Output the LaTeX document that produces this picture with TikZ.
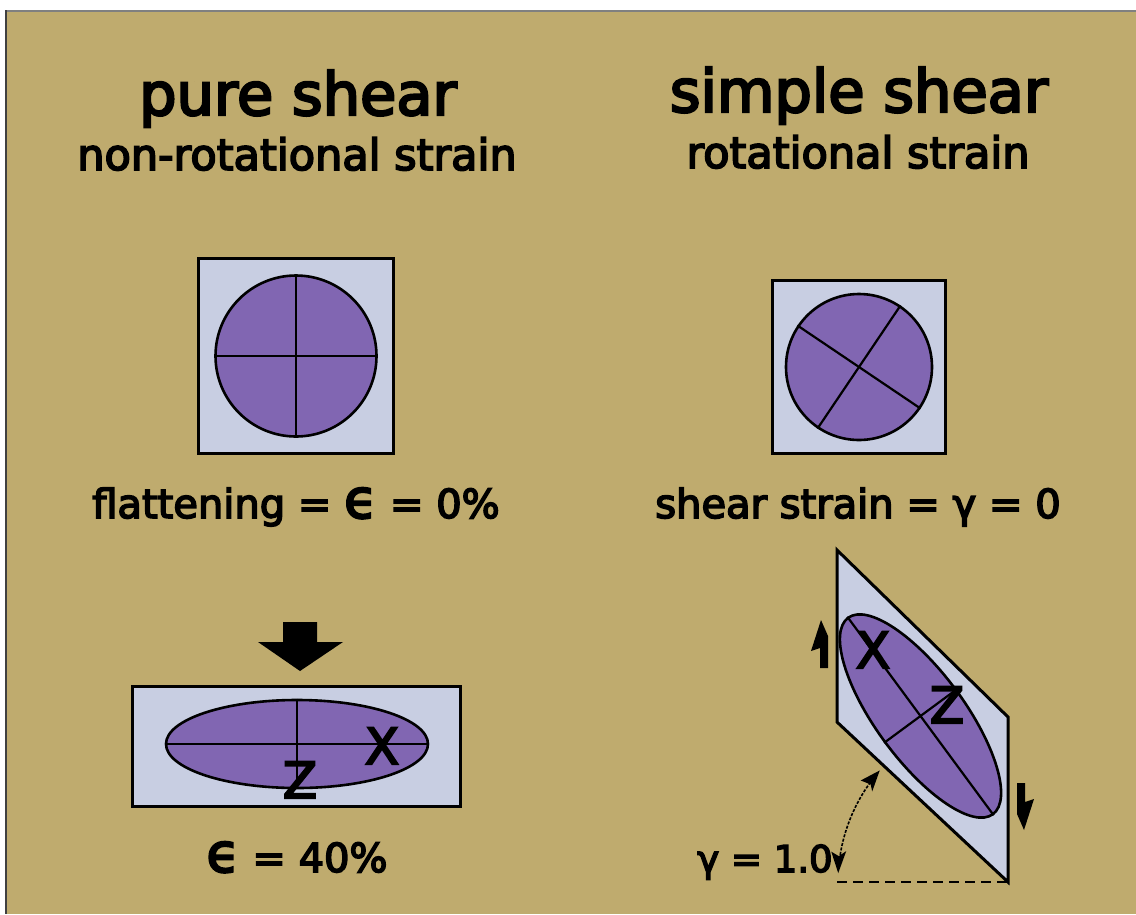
\documentclass[tikz,border=0pt]{standalone}
\usepackage{fontspec}
\setmainfont{DejaVu Sans}
\newfontfamily\heavyfont{DejaVu Sans}[FakeBold=4]
\usetikzlibrary{arrows.meta,shapes.geometric}
\definecolor{bgtan}{RGB}{191,171,110}
\definecolor{paleblue}{RGB}{200,206,226}
\definecolor{discviolet}{RGB}{129,102,178}
\begin{document}
\begin{tikzpicture}[x=1pt,y=-1pt,
  frame/.style={fill=paleblue,draw=black,line width=3pt,inner sep=0pt},
  disc/.style={fill=discviolet,draw=black,line width=2.6pt,inner sep=0pt},
  axisline/.style={black,line width=2.2pt},
  bigtitle/.style={anchor=base,inner sep=0pt,font=\heavyfont\fontsize{59}{59}\selectfont},
  subtitle/.style={anchor=base,inner sep=0pt,font=\heavyfont\fontsize{43}{43}\selectfont},
  caption/.style={anchor=base,inner sep=0pt,font=\heavyfont\fontsize{40}{40}\selectfont},
  axislabel/.style={anchor=base,inner sep=0pt,font=\heavyfont\fontsize{50}{50}\selectfont},
  halfarrow/.style={fill=black},
  gammatip/.style={fill=black}
]
\useasboundingbox (0,0) rectangle (1136,914);
\fill[white] (0,0) rectangle (1136,914);
\fill[bgtan] (6,10) rectangle (1136,914);
\draw[gray,line width=2pt] (6,11) -- (1136,11);
\draw[black!75,line width=2pt] (6,10) -- (6,914);

% titles
\node[bigtitle] (t1) at (298,115) {pure shear};
\node[subtitle] (s1) at (297,170) {non-rotational strain};
\node[bigtitle] (t2) at (859,112) {simple shear};
\node[subtitle] (s2) at (858,168) {rotational strain};

% pure shear, undeformed
\node[frame,minimum size=195pt] (sq1) at (295.5,355.5) {};
\node[disc,circle,minimum size=161pt] (c1) at (296,356) {};
\draw[axisline] (c1.north) -- (c1.south);
\draw[axisline] (c1.west) -- (c1.east);
\node[caption] (cap1) at (296,518) {flattening = {\fontsize{54}{54}\selectfont ϵ} = 0\%};

% compression arrow
\fill[black] (283,622) -- (317,622) -- (317,642) -- (343,642) -- (300,671) -- (258,642) -- (283,642) -- cycle;

% pure shear, deformed
\node[frame,minimum width=328pt,minimum height=120pt] (sq2) at (296,746) {};
\node[disc,ellipse,minimum width=262pt,minimum height=88pt] (e1) at (297,744) {};
\draw[axisline] (e1.west) -- (e1.east);
\draw[axisline] (e1.north) -- (e1.south);
\node[axislabel] (x1) at (382,764) {X};
\node[axislabel] (z1) at (300,798) {Z};
\node[caption] (cap2) at (297,872) {{\fontsize{54}{54}\selectfont ϵ} = 40\%};

% simple shear, undeformed
\node[frame,minimum size=173pt] (sq3) at (858.5,366.5) {};
\node[disc,circle,minimum size=146pt] (c2) at (859,367) {};
\draw[axisline] (c2.-34) -- (c2.146);
\draw[axisline] (c2.56) -- (c2.236);
\node[caption] (cap3) at (858,518) {shear strain = γ = 0};

% simple shear, deformed
\coordinate (pA) at (837,550);
\coordinate (pB) at (1008,717);
\coordinate (pC) at (1008,882);
\coordinate (pD) at (837,722);
\coordinate (base) at (837,882);
\draw[frame,line join=miter] (pA) -- (pB) -- (pC) -- (pD) -- cycle;
\node[disc,ellipse,minimum width=244pt,minimum height=88pt,rotate=-53.6] (e2) at (920.5,716) {};
\draw[axisline] (e2.west) -- (e2.east);
\draw[axisline] (e2.north) -- (e2.south);
\node[axislabel] (x2) at (873,668) {X};
\node[axislabel] (z2) at (947,723) {Z};

% shear sense half arrows
\fill[halfarrow] (821,620) -- (828,636) -- (828,668) -- (820,668) -- (820,648) -- (811,651) -- cycle;
\fill[halfarrow] (1024,830) -- (1017,814) -- (1017,783) -- (1025,783) -- (1025,802) -- (1034,799) -- cycle;

% angle gamma
\draw[black,line width=2.8pt,dash pattern=on 10pt off 6pt] (base) -- (pC);
\coordinate (gEnd) at ([shift={(-177:170)}]pC);
\coordinate (gStart) at ([shift={(-139:170)}]pC);
\draw[black,line width=1.6pt,dash pattern=on 3pt off 1.5pt]
  ([shift={(-144:170)}]pC) arc[start angle=-144,end angle=-171,radius=170];
\fill[gammatip] (gEnd) -- ++(8,-22) -- ++(-7.5,5) -- ++(-7.5,-4.5) -- cycle;
\fill[gammatip] (gStart) -- ++(-7.5,21) -- ++(-1.5,-7) -- ++(-10,-4) -- cycle;
\node[caption,font=\heavyfont\fontsize{37}{37}\selectfont] (g1) at (765,872) {γ = 1.0};
\end{tikzpicture}
\end{document}
